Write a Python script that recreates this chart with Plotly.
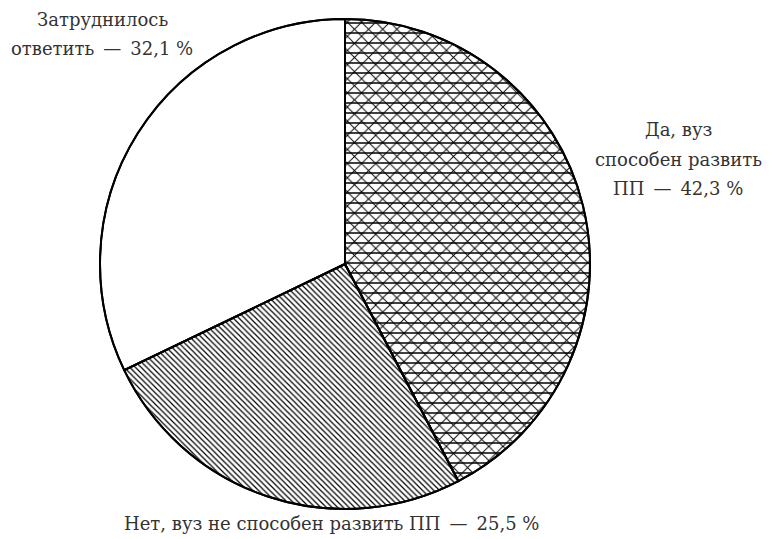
import plotly.graph_objects as go

# Data
categories = ["Да, вуз способен развить ПП", "Нет, вуз не способен развить ПП", "Затруднилось ответить"]
values = [42.3, 25.5, 32.1]
label_lines = [
    ["Да, вуз", "способен развить", "ПП"],
    ["Нет, вуз не способен развить ПП"],
    ["Затруднилось", "ответить"],
]
patterns_main = ["x", "\\", ""]
patterns_overlay = ["-", "", ""]

W, H = 771, 539
OFF = 8  # page body margin offset
cx, cy, r = 345 - OFF, 264 - OFF, 245
dom_x = [(cx - r) / W, (cx + r) / W]
dom_y = [(H - cy - r) / H, (H - cy + r) / H]

fig = go.Figure()
fig.add_trace(go.Pie(
    labels=categories, values=values, sort=False, direction="clockwise", rotation=0,
    textinfo="none", hoverinfo="skip", showlegend=False,
    domain=dict(x=dom_x, y=dom_y),
    marker=dict(colors=["white", "white", "white"],
                line=dict(color="black", width=2),
                pattern=dict(shape=patterns_main, fgcolor="black", bgcolor="white",
                             size=[10, 4, 8], solidity=[0.18, 0.3, 0.2])),
))
fig.add_trace(go.Pie(
    labels=categories, values=values, sort=False, direction="clockwise", rotation=0,
    textinfo="none", hoverinfo="skip", showlegend=False,
    domain=dict(x=dom_x, y=dom_y),
    marker=dict(colors=["rgba(0,0,0,0)"] * 3,
                line=dict(color="black", width=2),
                pattern=dict(shape=patterns_overlay, fgcolor="black", bgcolor="rgba(0,0,0,0)",
                             size=10, solidity=0.15)),
))

def fmt(v):
    return f"{v:.1f}".replace(".", ",") + " %"

# label anchor (centre x, first-line y) in reference pixels
label_pos = [(678, 130), (331, 523), (102, 19)]
line_gap = 29.5
for lines, v, (x, y0) in zip(label_lines, values, label_pos):
    ls = list(lines)
    ls[-1] = ls[-1] + "\u2002—\u2002" + fmt(v)
    for i, t in enumerate(ls):
        y = y0 + i * line_gap
        fig.add_annotation(x=(x - OFF) / W, y=1 - (y - OFF) / H, xref="paper", yref="paper",
                           text=t, showarrow=False, xanchor="center", yanchor="middle",
                           font=dict(family="DejaVu Serif", size=18, color="#333333"))

fig.update_layout(width=W, height=H, margin=dict(l=0, r=0, t=0, b=0),
                  paper_bgcolor="white", plot_bgcolor="white")
fig.write_html("out.html")
